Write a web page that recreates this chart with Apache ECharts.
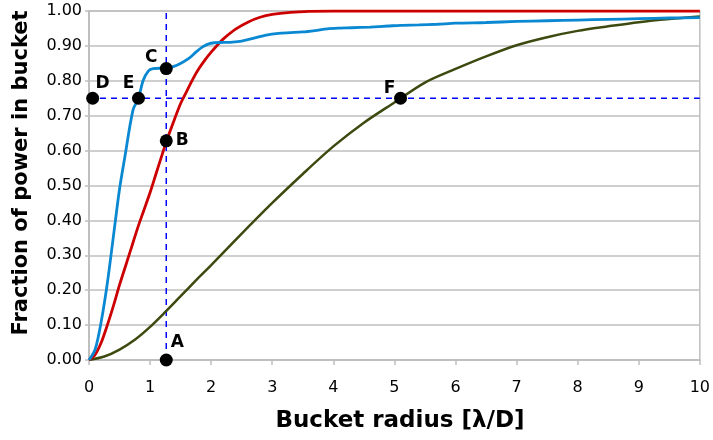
<!DOCTYPE html>
<html>
<head>
<meta charset="utf-8">
<script src="https://cdn.jsdelivr.net/npm/echarts@6/dist/echarts.min.js"></script>
<style>
html,body{margin:0;padding:0;background:#fff;}
#chart{width:713px;height:440px;}
</style>
</head>
<body>
<div id="chart"></div>
<script>
// ---- data ----
const xTicks = [0,1,2,3,4,5,6,7,8,9,10];
const yTicks = [0,0.1,0.2,0.3,0.4,0.5,0.6,0.7,0.8,0.9,1.0];

const blueX = [0,0.1,0.2,0.3,0.4,0.5,0.59,0.72,0.81,0.885,0.97,1.05,1.15,1.27,1.4,1.52,1.64,1.75,1.86,1.95,2.05,2.2,2.35,2.5,2.7,2.9,3.1,3.3,3.5,3.7,3.9,4.1,4.3,4.6,4.9,5.1,5.4,5.7,6.0,6.5,7.0,7.5,8.0,8.5,9.0,9.5,10];
const blueY = [0,0.03,0.11,0.22,0.355,0.49,0.585,0.716,0.75,0.80,0.828,0.835,0.836,0.836,0.842,0.852,0.865,0.882,0.897,0.905,0.909,0.910,0.911,0.914,0.922,0.931,0.936,0.938,0.940,0.944,0.949,0.951,0.952,0.954,0.957,0.959,0.960,0.962,0.965,0.967,0.970,0.972,0.974,0.976,0.978,0.980,0.981];

const redX = [0,0.1,0.2,0.3,0.4,0.5,0.6,0.7,0.8,0.9,1.0,1.1,1.2,1.27,1.4,1.5,1.6,1.7,1.8,1.9,2.0,2.1,2.2,2.4,2.6,2.8,3.0,3.3,3.6,4.0,5,6,7,8,9,10];
const redY = [0,0.015,0.05,0.1,0.155,0.215,0.27,0.325,0.38,0.43,0.48,0.535,0.59,0.628,0.69,0.735,0.77,0.805,0.835,0.86,0.882,0.902,0.92,0.948,0.968,0.982,0.99,0.996,0.999,1,1,1,1,1,1,1];

const greenX = [0,0.25,0.5,0.75,1,1.25,1.5,1.75,2,2.5,3,3.5,4,4.5,5,5.5,6,6.5,7,7.5,8,8.5,9,9.5,10];
const greenY = [0,0.01,0.03,0.058,0.095,0.138,0.183,0.228,0.272,0.362,0.45,0.533,0.612,0.68,0.738,0.795,0.834,0.87,0.902,0.925,0.943,0.956,0.968,0.977,0.984];

const pointNames = ['A','B','C','D','E','F'];
const pointX = [1.265,1.265,1.265,0.06,0.81,5.10];
const pointY = [0,0.628,0.835,0.75,0.75,0.75];

const guideX = 1.265;   // vertical dashed guide
const guideY = 0.75;    // horizontal dashed guide

const xTitle = 'Bucket radius [λ/D]';
const yTitle = 'Fraction of power in bucket';

// ---- styling (not data) ----
const labelOffsets = [[11,-17],[16,0],[-15,-11],[10,-15],[-10,-15],[-11,-10]];
const FONT = 'DejaVu Sans';

function pairs(xs, ys){ return xs.map((x,i)=>[x, ys[i]]); }

const chart = echarts.init(document.getElementById('chart'), null, {renderer:'canvas'});
const gridColor = '#bfbfbf';

chart.setOption({
  animation:false,
  backgroundColor:'#ffffff',
  grid:{left:89, right:10, top:11, bottom:80, show:true, borderColor:gridColor, borderWidth:1.5, containLabel:false},
  xAxis:{
    type:'value', min:xTicks[0], max:xTicks[xTicks.length-1], interval:1,
    axisLine:{show:true, lineStyle:{color:gridColor, width:2}},
    axisTick:{show:true, length:5, lineStyle:{color:gridColor, width:1.5}},
    axisLabel:{color:'#000', fontFamily:FONT, fontSize:16, margin:20},
    splitLine:{show:false}
  },
  yAxis:{
    type:'value', min:yTicks[0], max:yTicks[yTicks.length-1], interval:0.1,
    axisLine:{show:true, lineStyle:{color:gridColor, width:2}},
    axisTick:{show:true, length:4, lineStyle:{color:gridColor, width:1.5}},
    axisLabel:{color:'#000', fontFamily:FONT, fontSize:16, margin:7, formatter:v=>v.toFixed(2)},
    splitLine:{show:true, lineStyle:{color:gridColor, width:1.5}}
  },
  graphic:[
    {type:'text', x:400, y:421, style:{text:xTitle, font:'bold 23px "DejaVu Sans"', fill:'#000', textAlign:'center', textVerticalAlign:'middle'}},
    {type:'text', x:22, y:173, rotation:Math.PI/2, style:{text:yTitle, font:'bold 21px "DejaVu Sans"', fill:'#000', textAlign:'center', textVerticalAlign:'middle'}}
  ],
  series:[
    {type:'line', data:[[guideX,yTicks[0]],[guideX,yTicks[yTicks.length-1]]], symbol:'none', z:1,
      lineStyle:{color:'#0000ff', width:1.5, type:[6,5]}, silent:true},
    {type:'line', data:[[xTicks[0],guideY],[xTicks[xTicks.length-1],guideY]], symbol:'none', z:1,
      lineStyle:{color:'#0000ff', width:1.5, type:[6,5]}, silent:true},
    {type:'line', name:'green', data:pairs(greenX,greenY), symbol:'none', smooth:0.3, z:2,
      lineStyle:{color:'#3c4a10', width:2.5}},
    {type:'line', name:'red', data:pairs(redX,redY), symbol:'none', smooth:0.3, z:3,
      lineStyle:{color:'#cc0000', width:2.8}},
    {type:'line', name:'blue', data:pairs(blueX,blueY), symbol:'none', smooth:0.3, z:4,
      lineStyle:{color:'#0a88d2', width:2.8}},
    {type:'scatter', clip:false, z:10, symbol:'circle', symbolSize:13,
      itemStyle:{color:'#000', opacity:1},
      data:pointNames.map((n,i)=>({
        name:n, value:[pointX[i], pointY[i]],
        label:{show:true, formatter:n, position:'inside', offset:labelOffsets[i],
          color:'#000', fontFamily:FONT, fontWeight:'bold', fontSize:17}
      }))
    }
  ]
});
</script>
</body>
</html>
